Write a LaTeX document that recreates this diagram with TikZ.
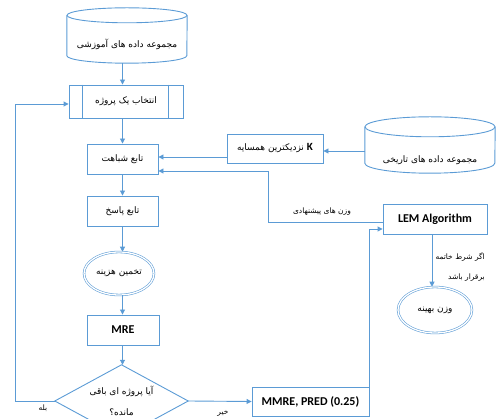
\documentclass[tikz,border=0pt]{standalone}
\usepackage{fontspec}
\setmainfont{Carlito}
\newfontfamily\fa[Script=Arabic]{DejaVu Sans}
\TeXXeTstate=1
\usetikzlibrary{arrows.meta,calc,shapes.geometric}
\definecolor{ln}{RGB}{91,155,213}
\newcommand{\prs}[1]{{\fa\beginR #1\endR}}
\tikzset{
  shp/.style={draw=ln, line width=0.9pt},
  box/.style={shp, inner sep=0pt, font=\fontsize{9}{10}\selectfont},
  lat/.style={font=\fontsize{12}{13}\selectfont\bfseries},
  dbl/.style={draw=ln, line width=0.55pt, double=white, double distance=1.3pt, ellipse, inner sep=0pt, font=\fontsize{9}{10}\selectfont},
  arr/.style={draw=ln, line width=0.9pt, -{Triangle[length=5pt,width=5pt]}},
  lbl/.style={inner sep=0pt, font=\fontsize{7.5}{8}\selectfont},
  txt/.style={inner sep=0pt, font=\fontsize{9}{10}\selectfont}
}
\begin{document}
\begin{tikzpicture}[x=1pt,y=-1pt]
\useasboundingbox (0,0) rectangle (496,419);
\clip (0,0) rectangle (496,419);
% cylinder 1
\node (cyl1) at (127,35.5) [minimum width=120pt, minimum height=55pt, inner sep=0pt] {};
\draw[shp] ($(cyl1.north)+(0,7.5)$) ellipse [x radius=60pt, y radius=7.5pt];
\draw[shp] ($(cyl1.north west)+(0,7.5)$) -- ($(cyl1.south west)+(0,-7.5)$) arc[start angle=180, end angle=360, x radius=60pt, y radius=7.5pt] -- ($(cyl1.north east)+(0,7.5)$);
\node[txt] (cyl1t) at (127,44) {\prs{مجموعه داده های آموزشی}};
% cylinder 2
\node (cyl2) at (430,145) [minimum width=130pt, minimum height=56pt, inner sep=0pt] {};
\draw[shp] ($(cyl2.north)+(0,10)$) ellipse [x radius=65pt, y radius=10pt];
\draw[shp] ($(cyl2.north west)+(0,10)$) -- ($(cyl2.south west)+(0,-10)$) arc[start angle=180, end angle=360, x radius=65pt, y radius=10pt] -- ($(cyl2.north east)+(0,10)$);
\node[txt] (cyl2t) at (430,160) {\prs{مجموعه داده های تاریخی}};
% left column
\node[box, minimum width=114pt, minimum height=33pt] (b1) at (126,101.5) {\prs{انتخاب یک پروژه}};
\draw[shp] ($(b1.north west)+(14,0)$) -- ($(b1.south west)+(14,0)$);
\draw[shp] ($(b1.north east)+(-15,0)$) -- ($(b1.south east)+(-15,0)$);
\node[box, minimum width=71pt, minimum height=30pt] (b2) at (122.5,159) {\prs{تابع شباهت}};
\node[box, minimum width=71pt, minimum height=30pt] (b3) at (122.5,211) {\prs{تابع پاسخ}};
\node[dbl, minimum width=70pt, minimum height=43pt] (e1) at (119,273.5) {\prs{تخمین هزینه}};
\node[box, lat, minimum width=72pt, minimum height=30pt] (b4) at (123,330) {MRE};
\node[inner sep=0pt, minimum width=133pt, minimum height=72pt, align=center, font=\fontsize{9}{21}\selectfont] (d1) at (121.5,401) {\prs{آیا پروژه ای باقی}\\[0pt]\prs{مانده؟}};
\draw[shp] (d1.north) -- (d1.east) -- (d1.south) -- (d1.west) -- cycle;
% right side
\node[box, minimum width=96pt, minimum height=29pt] (kbox) at (275,148.5) {\prs{{\fontsize{11}{12}\selectfont\bfseries\rmfamily K} نزدیکترین همسایه}};
\node[box, lat, minimum width=104pt, minimum height=30pt] (lem) at (435,219) {LEM Algorithm};
\node[dbl, minimum width=74pt, minimum height=46pt] (e2) at (435,310) {\prs{وزن بهینه}};
\node[box, lat, minimum width=117pt, minimum height=29pt] (mmre) at (310.5,401.5) {MMRE, PRED (0.25)};
% arrows left column
\draw[arr] (cyl1.south -| b2.north) -- (b1.north -| b2.north);
\draw[arr] (b1.south -| b2.north) -- (b2.north);
\draw[arr] (b2.south) -- (b3.north);
\draw[arr] (b3.south) -- (b3.south |- e1.north);
\draw[arr] (e1.south -| b3.south) -- (b4.north -| b3.south);
\draw[arr] (b4.south -| b3.south) -- (d1.north -| b3.south);
\coordinate (lp) at (15,401);
\draw[arr] (d1.west) -- (lp) |- ([yshift=-2.5pt]b1.west);
\node[lbl] (yes) at (43,408) {\prs{بله}};
\draw[arr] (d1.east) -- (mmre.west);
\node[lbl] (no) at (223,413) {\prs{خیر}};
% arrows right side
\draw[arr] ([yshift=-6pt]cyl2.west) -- ([yshift=-6pt]cyl2.west -| kbox.east);
\draw[arr] ([yshift=2pt]b2.east -| kbox.west) -- ([yshift=2pt]b2.east);
\coordinate (c1) at (268,171);
\draw[arr] ([yshift=-3pt]lem.west) -| (c1) -- ([yshift=-12pt]b2.east);
\node[lbl] (sug) at (322,212) {\prs{وزن های پیشنهادی}};
\draw[arr] (mmre.north east) |- ([yshift=-10pt]lem.west);
\draw[arr] ([xshift=-3pt]lem.south) -- ([xshift=-3pt]lem.south |- e2.north);
\node[lbl, anchor=east] (cond1) at (485,257) {\prs{اگر شرط خاتمه}};
\node[lbl, anchor=east] (cond2) at (485,278) {\prs{برقرار باشد}};
\end{tikzpicture}
\end{document}
